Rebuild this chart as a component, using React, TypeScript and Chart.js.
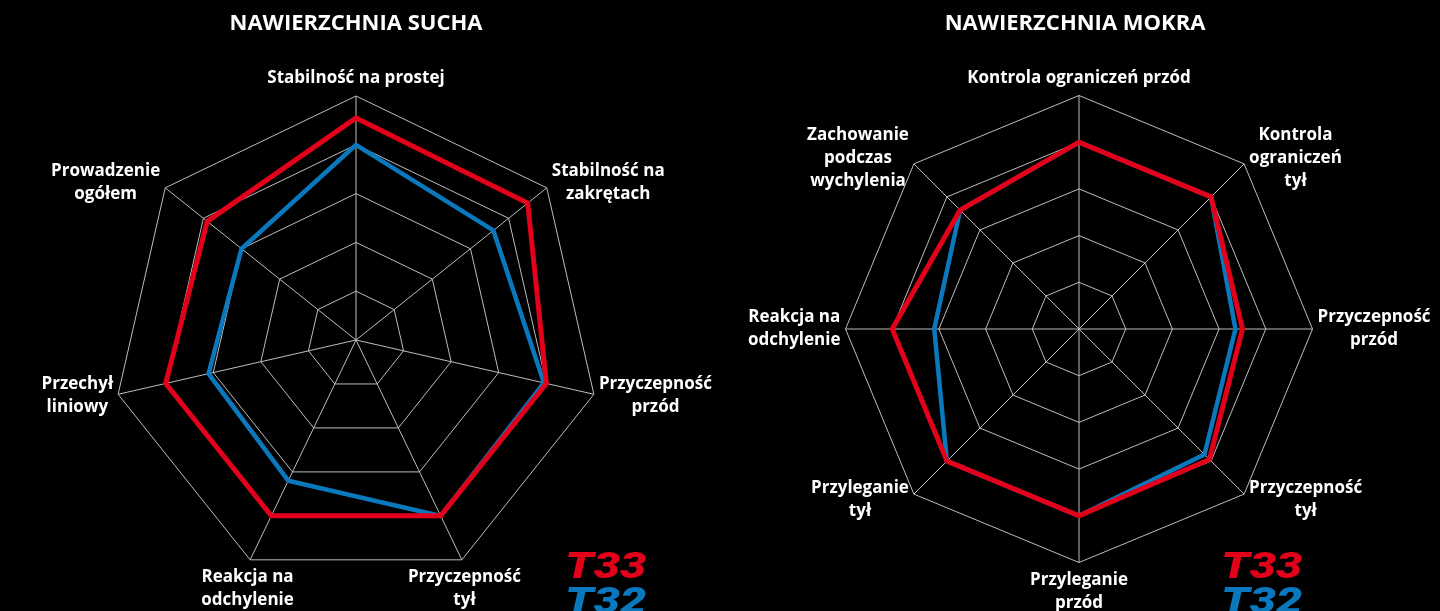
import React, { useEffect, useRef } from 'react';
import { Chart, registerables } from 'chart.js';

Chart.register(...registerables);

// ---------- data ----------
const SERIES_NAMES = ['T33', 'T32'];
const SERIES_COLORS = ['#e2001a', '#0a78bd'];

const DRY_TITLE = 'NAWIERZCHNIA SUCHA';
const DRY_AXES = [
  ['Stabilność na prostej'],
  ['Stabilność na', 'zakrętach'],
  ['Przyczepność', 'przód'],
  ['Przyczepność', 'tył'],
  ['Reakcja na', 'odchylenie'],
  ['Przechył', 'liniowy'],
  ['Prowadzenie', 'ogółem'],
];
const DRY_T33 = [4.55, 4.5, 4, 4, 4, 4, 3.9];
const DRY_T32 = [4, 3.6, 3.95, 4, 3.2, 3.1, 3];

const WET_TITLE = 'NAWIERZCHNIA MOKRA';
const WET_AXES = [
  ['Kontrola ograniczeń przód'],
  ['Kontrola', 'ograniczeń', 'tył'],
  ['Przyczepność', 'przód'],
  ['Przyczepność', 'tył'],
  ['Przyleganie', 'przód'],
  ['Przyleganie', 'tył'],
  ['Reakcja na', 'odchylenie'],
  ['Zachowanie', 'podczas', 'wychylenia'],
];
const WET_T33 = [4, 4, 3.5, 3.95, 4, 4, 4, 3.6];
const WET_T32 = [4, 4, 3.35, 3.8, 4, 4, 3.1, 3.6];

const SCALE_MIN = 0;
const SCALE_MAX = 5;
const SCALE_STEP = 1;

// ---------- styles ----------
const FONT_FAMILY = '"Open Sans", Roboto, "Noto Sans", "DejaVu Sans", sans-serif';
const LEGEND_FAMILY = 'Roboto, "Open Sans", "DejaVu Sans", sans-serif';
const LABEL_FONT = `bold 17px ${FONT_FAMILY}`;
const LABEL_LINE_H = 23;
const GRID_COLOR = '#bdbdbd';

const axisLabelPlugin = {
  id: 'axisLabels',
  afterDraw(chart: any) {
    const s = chart.scales.r;
    const ctx = chart.ctx;
    const labels = chart.data.labels as string[][];
    ctx.save();
    ctx.font = LABEL_FONT;
    ctx.fillStyle = '#ffffff';
    ctx.textAlign = 'center';
    ctx.textBaseline = 'middle';
    labels.forEach((lab, i) => {
      const lines = Array.isArray(lab) ? lab : [lab];
      const a = s.getIndexAngle(i);
      const sinA = Math.sin(a);
      const cosA = Math.cos(a);
      const w = Math.max(...lines.map((l) => ctx.measureText(l).width));
      const h = lines.length * LABEL_LINE_H;
      let bx: number;
      let by: number;
      if (Math.abs(sinA) < 0.5) {
        const p = s.getPointPosition(i, s.drawingArea + 6);
        bx = p.x;
        by = cosA > 0 ? p.y - h / 2 : p.y + h / 2;
      } else {
        const v = s.getPointPosition(i, s.drawingArea);
        bx = v.x + Math.sign(sinA) * (5 + w / 2);
        by = v.y - cosA * 8;
      }
      lines.forEach((l, k) => {
        ctx.fillText(l, bx, by - h / 2 + LABEL_LINE_H * (k + 0.5));
      });
    });
    ctx.restore();
  },
};

const textLegendPlugin = {
  id: 'textLegend',
  afterDraw(chart: any, _args: any, opts: any) {
    const ctx = chart.ctx;
    ctx.save();
    ctx.font = `italic 900 36px ${LEGEND_FAMILY}`;
    ctx.textAlign = 'left';
    ctx.textBaseline = 'alphabetic';
    chart.data.datasets.forEach((ds: any, k: number) => {
      ctx.save();
      ctx.translate(opts.x, opts.y + k * opts.step);
      ctx.scale(opts.stretch, 1);
      ctx.fillStyle = ds.borderColor;
      ctx.fillText(ds.label, 0, 0);
      ctx.restore();
    });
    ctx.restore();
  },
};

type PanelProps = {
  title: string;
  axes: string[][];
  t33: number[];
  t32: number[];
  left: number;
  width: number;
  cx: number;
  cy: number;
  radius: number;
  legendX: number;
};

function RadarPanel(props: PanelProps) {
  const ref = useRef<HTMLCanvasElement | null>(null);
  useEffect(() => {
    if (!ref.current) return;
    const chart = new Chart(ref.current, {
      type: 'radar',
      data: {
        labels: props.axes,
        datasets: [
          {
            label: SERIES_NAMES[0],
            data: props.t33,
            borderColor: SERIES_COLORS[0],
            backgroundColor: 'transparent',
            borderWidth: 5,
            pointRadius: 0,
            fill: false,
            borderJoinStyle: 'miter',
          },
          {
            label: SERIES_NAMES[1],
            data: props.t32,
            borderColor: SERIES_COLORS[1],
            backgroundColor: 'transparent',
            borderWidth: 4.5,
            pointRadius: 0,
            fill: false,
            borderJoinStyle: 'miter',
          },
        ],
      },
      options: {
        responsive: false,
        animation: false,
        events: [],
        plugins: {
          legend: { display: false },
          tooltip: { enabled: false },
          title: {
            display: true,
            text: props.title,
            color: '#ffffff',
            font: { family: FONT_FAMILY, size: 22, weight: 'bold' },
            padding: { top: 11, bottom: 10 },
          },
          textLegend: { x: props.legendX, y: 578, step: 35, stretch: 1.3 },
        } as any,
        scales: {
          r: {
            min: SCALE_MIN,
            max: SCALE_MAX,
            ticks: { display: false, stepSize: SCALE_STEP },
            grid: { color: GRID_COLOR, lineWidth: 1 },
            angleLines: { color: GRID_COLOR, lineWidth: 1 },
            pointLabels: { display: false },
            afterFit: (scale: any) => {
              scale.xCenter = props.cx;
              scale.yCenter = props.cy;
              scale.drawingArea = props.radius;
            },
          } as any,
        },
      },
      plugins: [axisLabelPlugin, textLegendPlugin],
    });
    return () => chart.destroy();
  }, []);
  return (
    <canvas
      ref={ref}
      width={props.width}
      height={611}
      style={{ position: 'absolute', left: props.left, top: 0, width: props.width, height: 611 }}
    />
  );
}

export default function App() {
  return (
    <div style={{ position: 'fixed', left: 0, top: 0, width: 1440, height: 611, background: '#000', overflow: 'hidden' }}>
      <RadarPanel
        title={DRY_TITLE}
        axes={DRY_AXES}
        t33={DRY_T33}
        t32={DRY_T32}
        left={0}
        width={712}
        cx={356}
        cy={340}
        radius={244}
        legendX={565}
      />
      <RadarPanel
        title={WET_TITLE}
        axes={WET_AXES}
        t33={WET_T33}
        t32={WET_T32}
        left={720}
        width={710}
        cx={359}
        cy={329}
        radius={233.5}
        legendX={501}
      />
    </div>
  );
}
